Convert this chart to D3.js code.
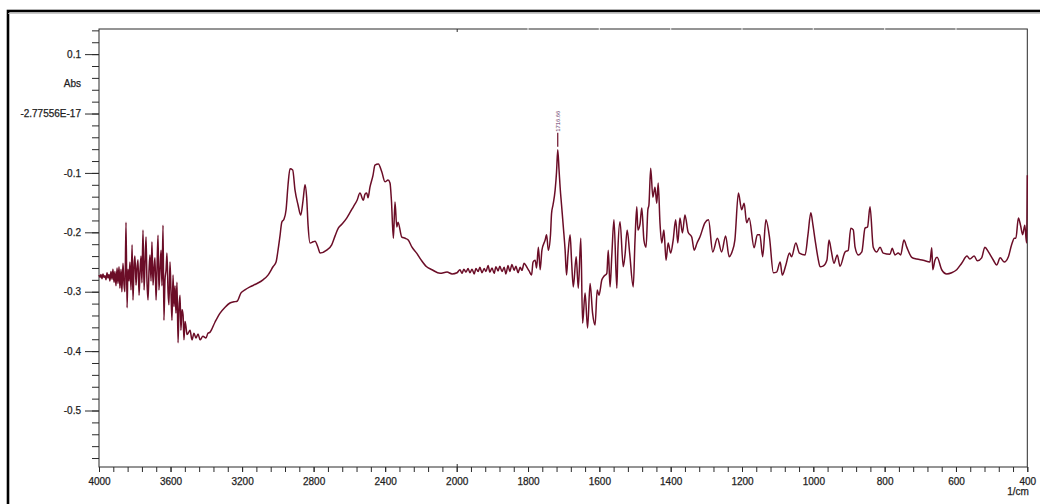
<!DOCTYPE html>
<html>
<head>
<meta charset="utf-8">
<script src="https://cdn.jsdelivr.net/npm/d3@7"></script>
<style>
  html, body { margin: 0; padding: 0; background: #fff; }
  svg { display: block; }
  text { font-family: "Liberation Sans", Arial, sans-serif; }
</style>
</head>
<body>
<svg id="chart" width="1040" height="504"></svg>
<script>
// FTIR absorbance spectrum (wavenumber in 1/cm, absorbance in Abs)
const wavenumber = [
  4000, 3994, 3989, 3983, 3978, 3972, 3966, 3961, 3955, 3950, 3944, 3939, 3933, 3927, 3922, 3916,
  3911, 3905, 3899, 3894, 3888, 3883, 3877, 3872, 3866, 3860, 3855, 3849, 3843, 3838, 3832, 3827,
  3821, 3815, 3810, 3804, 3799, 3793, 3788, 3782, 3776, 3771, 3765, 3760, 3754, 3748, 3743, 3737,
  3732, 3726, 3720, 3715, 3709, 3704, 3698, 3692, 3687, 3681, 3676, 3670, 3665, 3659, 3653, 3648,
  3642, 3637, 3631, 3625, 3620, 3614, 3609, 3603, 3597, 3592, 3586, 3581, 3575, 3570, 3564, 3558,
  3553, 3547, 3542, 3536, 3530, 3525, 3519, 3514, 3508, 3502,
  3491, 3480, 3469, 3458, 3446, 3435, 3419, 3402, 3391,
  3379, 3351, 3323, 3295, 3268, 3245, 3228, 3206, 3184, 3156, 3122, 3083, 3055, 3027, 3010, 2999,
  2988, 2978, 2966, 2954, 2943, 2932, 2917, 2904, 2887, 2872, 2859, 2848, 2839, 2831, 2820, 2803,
  2792, 2775, 2764, 2727, 2699, 2680, 2662, 2641, 2615, 2597, 2578, 2557, 2541, 2522, 2513, 2503,
  2496, 2485, 2468, 2457, 2438, 2419, 2401, 2384, 2373, 2365, 2354, 2345, 2335, 2328, 2307, 2288,
  2271, 2250, 2224, 2200, 2168, 2138, 2093, 2054, 2026,
  1999, 1991, 1985, 1980, 1974, 1968, 1963, 1957, 1951, 1946, 1940, 1935, 1929, 1923, 1918, 1912,
  1907, 1901, 1895, 1890, 1884, 1879, 1873, 1867, 1862, 1856, 1851, 1845, 1839, 1834, 1828, 1822,
  1817, 1811, 1804, 1797, 1790, 1786, 1780, 1776, 1771, 1766, 1761, 1752, 1748, 1743, 1737, 1734,
  1730, 1724, 1720, 1716.66, 1713, 1710, 1706, 1701, 1696, 1692, 1688, 1682, 1678, 1673, 1665, 1659,
  1652, 1647, 1640, 1633, 1626, 1619, 1612, 1606, 1601, 1593, 1587, 1579, 1575, 1570, 1565, 1559,
  1551, 1548, 1542, 1533, 1528, 1522, 1515, 1505, 1500, 1495, 1492, 1486, 1481, 1475, 1469, 1464,
  1461, 1456, 1450, 1444, 1439, 1435, 1430, 1425, 1419, 1413, 1407, 1400, 1393, 1386, 1380, 1374,
  1367, 1360, 1351, 1341, 1334, 1326, 1318, 1304, 1294, 1282, 1269, 1257, 1246, 1236, 1228, 1220,
  1210, 1201, 1194, 1187, 1180, 1166, 1157, 1150, 1142, 1133, 1123, 1112, 1103, 1093, 1087, 1077,
  1067, 1061, 1049, 1039, 1023, 1015, 1007, 1001, 995, 987, 981, 973, 962, 956, 950, 942,
  933, 925, 911, 902, 895, 888, 883, 874, 864, 855, 848, 841, 832, 822, 813, 804,
  785, 779, 771, 762, 755, 746, 738, 724, 710, 692, 673, 668, 665, 659, 653, 640,
  626, 612, 598, 584, 569, 561, 549, 540, 528, 519, 509, 495, 486, 476, 465, 453,
  444, 436, 432, 425, 419, 413, 407, 402, 400
];

const absorbance = [
  -0.272, -0.276, -0.271, -0.278, -0.270, -0.276, -0.273, -0.280, -0.268, -0.277, -0.271, -0.282, -0.266, -0.279, -0.262, -0.284,
  -0.266, -0.290, -0.260, -0.286, -0.258, -0.294, -0.262, -0.300, -0.252, -0.288, -0.300, -0.183, -0.327, -0.262, -0.282, -0.250,
  -0.297, -0.221, -0.314, -0.255, -0.240, -0.289, -0.262, -0.246, -0.306, -0.268, -0.240, -0.285, -0.196, -0.297, -0.255, -0.208,
  -0.280, -0.314, -0.262, -0.238, -0.282, -0.216, -0.289, -0.258, -0.243, -0.314, -0.265, -0.205, -0.297, -0.262, -0.230, -0.290,
  -0.188, -0.348, -0.280, -0.263, -0.235, -0.300, -0.322, -0.250, -0.305, -0.348, -0.272, -0.325, -0.290, -0.336, -0.284, -0.386,
  -0.330, -0.306, -0.365, -0.330, -0.339, -0.381, -0.350, -0.358, -0.372, -0.370,
  -0.365, -0.381, -0.370, -0.378, -0.371, -0.381, -0.375, -0.378, -0.370,
  -0.368, -0.351, -0.336, -0.326, -0.319, -0.317, -0.316, -0.302, -0.297, -0.292, -0.287, -0.280, -0.272, -0.258, -0.250, -0.230,
  -0.206, -0.183, -0.178, -0.162, -0.120, -0.093, -0.095, -0.129, -0.154, -0.171, -0.146, -0.120, -0.141, -0.188, -0.218, -0.216,
  -0.215, -0.226, -0.235, -0.230, -0.221, -0.206, -0.193, -0.186, -0.176, -0.167, -0.157, -0.146, -0.134, -0.146, -0.136, -0.134,
  -0.142, -0.124, -0.104, -0.087, -0.085, -0.098, -0.115, -0.112, -0.117, -0.146, -0.210, -0.149, -0.191, -0.183, -0.208, -0.210,
  -0.213, -0.225, -0.235, -0.246, -0.258, -0.263, -0.269, -0.267, -0.270,
  -0.268, -0.263, -0.269, -0.262, -0.267, -0.261, -0.268, -0.262, -0.270, -0.261, -0.266, -0.259, -0.268, -0.261, -0.266, -0.256,
  -0.267, -0.260, -0.269, -0.258, -0.265, -0.257, -0.266, -0.259, -0.270, -0.256, -0.266, -0.254, -0.264, -0.257, -0.268, -0.259,
  -0.264, -0.252, -0.258, -0.265, -0.272, -0.250, -0.247, -0.260, -0.225, -0.263, -0.230, -0.213, -0.204, -0.230, -0.204, -0.168,
  -0.154, -0.129, -0.098, -0.061, -0.095, -0.124, -0.154, -0.191, -0.230, -0.272, -0.238, -0.204, -0.247, -0.292, -0.241, -0.294,
  -0.210, -0.353, -0.302, -0.361, -0.286, -0.336, -0.356, -0.297, -0.306, -0.280, -0.274, -0.269, -0.230, -0.292, -0.238, -0.179,
  -0.294, -0.230, -0.182, -0.258, -0.238, -0.196, -0.235, -0.292, -0.213, -0.157, -0.196, -0.186, -0.159, -0.213, -0.225, -0.162,
  -0.154, -0.092, -0.141, -0.124, -0.151, -0.117, -0.184, -0.218, -0.196, -0.247, -0.218, -0.235, -0.213, -0.179, -0.218, -0.176,
  -0.201, -0.171, -0.200, -0.208, -0.230, -0.218, -0.208, -0.184, -0.179, -0.233, -0.210, -0.233, -0.206, -0.241, -0.233, -0.213,
  -0.134, -0.162, -0.151, -0.184, -0.176, -0.226, -0.204, -0.204, -0.241, -0.179, -0.208, -0.268, -0.267, -0.250, -0.272, -0.255,
  -0.235, -0.241, -0.218, -0.235, -0.238, -0.204, -0.167, -0.188, -0.213, -0.243, -0.258, -0.257, -0.247, -0.213, -0.230, -0.252,
  -0.238, -0.257, -0.233, -0.230, -0.193, -0.196, -0.225, -0.238, -0.233, -0.193, -0.191, -0.157, -0.225, -0.233, -0.225, -0.235,
  -0.237, -0.227, -0.238, -0.235, -0.238, -0.213, -0.225, -0.242, -0.245, -0.247, -0.250, -0.226, -0.263, -0.247, -0.242, -0.263,
  -0.270, -0.268, -0.263, -0.252, -0.240, -0.245, -0.240, -0.248, -0.243, -0.225, -0.233, -0.247, -0.255, -0.243, -0.250, -0.241,
  -0.221, -0.210, -0.210, -0.176, -0.188, -0.204, -0.188, -0.218, -0.104
];

// Axis ticks
const xMajorTicks = [4000, 3600, 3200, 2800, 2400, 2000, 1800, 1600, 1400, 1200, 1000, 800, 600, 400];
const yMajorTicks = [0.1, 0, -0.1, -0.2, -0.3, -0.4, -0.5];
const yTickLabels = ["0.1", "-2.77556E-17", "-0.1", "-0.2", "-0.3", "-0.4", "-0.5"];

// Labelled peak
const peakWavenumber = 1716.66;
const peakLabel = "1716.66";

const svg = d3.select("#chart");
const W = 1040, H = 504;
const plot = { left: 99, top: 29, right: 1027.3, bottom: 467 };

// Wavenumber axis: 4000-2000 is drawn at half the scale of 2000-400
const x = d3.scaleLinear()
  .domain([4000, 2000, 400])
  .range([plot.left, 456.7, plot.right]);

const y = d3.scaleLinear()
  .domain([-0.5951, 0.1423])
  .range([plot.bottom, plot.top]);

// Outer frame
svg.append("rect")
  .attr("x", 8).attr("y", 11)
  .attr("width", W + 20).attr("height", H + 20)
  .attr("fill", "none").attr("stroke", "#000").attr("stroke-width", 2.6);
svg.append("line")
  .attr("x1", 8).attr("x2", W).attr("y1", 13.5).attr("y2", 13.5)
  .attr("stroke", "#bbb").attr("stroke-width", 0.8);

const axisColor = "#2a2a2a";
const labelColor = "#1e1e1e";
const fontSize = "10px";

// Minor tick positions
const xMinor = d3.range(4000, 2000, -80).concat(d3.range(2000, 399, -40));
const yMinor = d3.range(-0.58, 0.1401, 0.02).map(v => Math.round(v * 100) / 100);

function styleText(sel) {
  sel.attr("fill", labelColor)
    .attr("stroke", labelColor)
    .attr("stroke-width", 0.25)
    .style("font-size", fontSize)
    .style("font-family", "'Liberation Sans', Arial, sans-serif");
}

function styleAxis(g) {
  g.select(".domain").remove();
  g.selectAll(".tick line").attr("stroke", axisColor).attr("stroke-width", 1);
  g.selectAll(".tick text").call(styleText);
}

// Bottom axis
svg.append("g")
  .attr("transform", `translate(0,${plot.bottom})`)
  .call(d3.axisBottom(x).tickValues(xMinor).tickSize(5).tickFormat(""))
  .call(styleAxis);
svg.append("g")
  .attr("transform", `translate(0,${plot.bottom})`)
  .call(d3.axisBottom(x).tickValues(xMajorTicks).tickSize(5).tickPadding(6.2).tickFormat(d3.format("d")))
  .call(styleAxis);

// Inward mark at the scale break (2000) on bottom and top edges
svg.append("g")
  .attr("transform", `translate(0,${plot.bottom})`)
  .call(d3.axisTop(x).tickValues([2000]).tickSize(3).tickFormat(""))
  .call(styleAxis);
svg.append("g")
  .attr("transform", `translate(0,${plot.top})`)
  .call(d3.axisBottom(x).tickValues([2000]).tickSize(3).tickFormat(""))
  .call(styleAxis);

// Left axis
svg.append("g")
  .attr("transform", `translate(${plot.left},0)`)
  .call(d3.axisLeft(y).tickValues(yMinor).tickSize(7).tickFormat(""))
  .call(styleAxis);
svg.append("g")
  .attr("transform", `translate(${plot.left},0)`)
  .call(d3.axisLeft(y).tickValues(yMajorTicks).tickSize(14).tickPadding(4)
    .tickFormat((d, i) => yTickLabels[i]))
  .call(styleAxis);

// Plot frame
svg.append("rect")
  .attr("x", plot.left).attr("y", plot.top)
  .attr("width", plot.right - plot.left).attr("height", plot.bottom - plot.top)
  .attr("fill", "none").attr("stroke", axisColor).attr("stroke-width", 1);

// Light marks on the top edge at the lower-range major ticks
svg.append("g")
  .selectAll("line")
  .data(xMajorTicks.filter(d => d < 2000 && d > 400))
  .join("line")
  .attr("x1", d => x(d)).attr("x2", d => x(d))
  .attr("y1", plot.top - 1).attr("y2", plot.top + 1)
  .attr("stroke", "#e6e6e6").attr("stroke-width", 1.2);

// Axis titles
svg.append("text")
  .attr("x", 81).attr("y", y(0.05))
  .attr("text-anchor", "end").attr("dominant-baseline", "central")
  .call(styleText)
  .text("Abs");
svg.append("text")
  .attr("x", 1018).attr("y", 495)
  .attr("text-anchor", "middle")
  .call(styleText)
  .text("1/cm");

// Spectrum
const spectrum = wavenumber.map((w, i) => [w, absorbance[i]]);
svg.append("path")
  .datum(spectrum)
  .attr("fill", "none")
  .attr("stroke", "#6b0d27")
  .attr("stroke-width", 1.5)
  .attr("stroke-linejoin", "round")
  .attr("d", d3.line().curve(d3.curveMonotoneX).x(d => x(d[0])).y(d => y(d[1])));

// Peak marker and label
const peakAbs = absorbance[wavenumber.indexOf(peakWavenumber)];
const px = x(peakWavenumber);
const py = y(peakAbs);
svg.append("line")
  .attr("x1", px).attr("x2", px)
  .attr("y1", py - 3).attr("y2", py - 17)
  .attr("stroke", "#6b0d27").attr("stroke-width", 1.2);
svg.append("text")
  .attr("transform", `translate(${px + 2},${py - 18}) rotate(-90)`)
  .attr("fill", "#5a2a5e")
  .style("font-size", "5.8px")
  .text(peakLabel);
</script>
</body>
</html>
